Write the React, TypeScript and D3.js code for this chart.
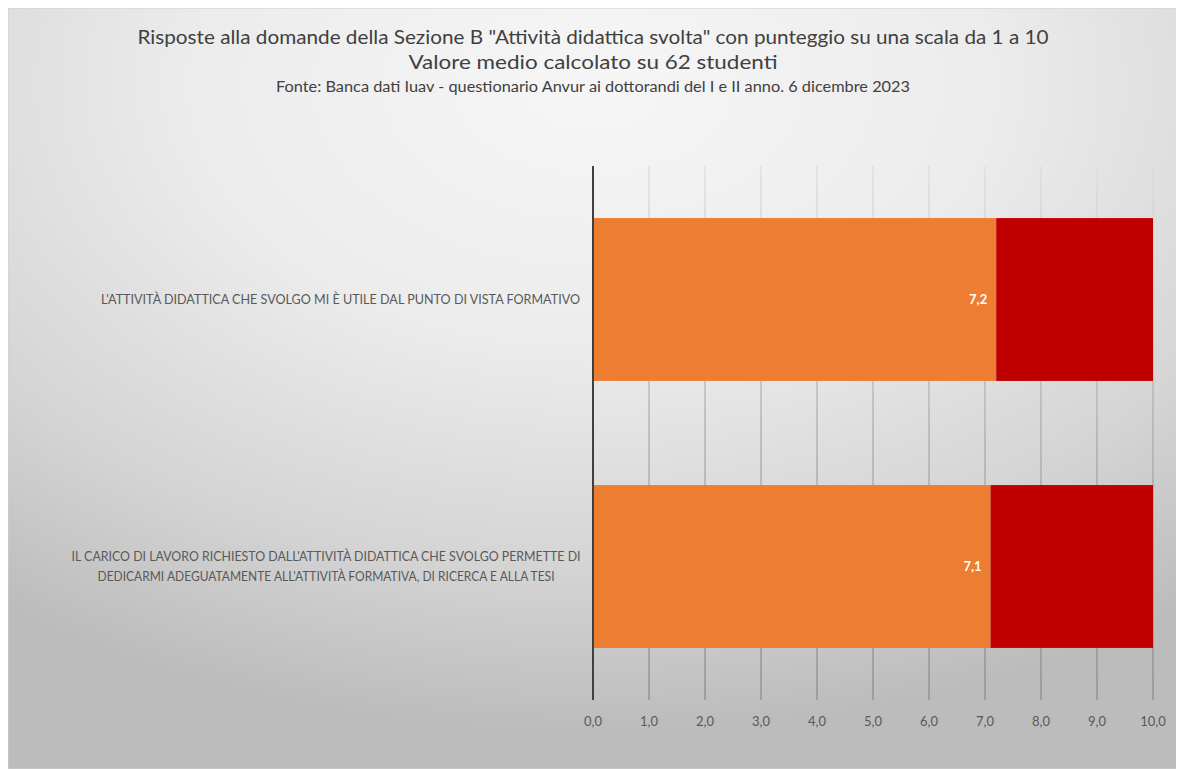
import React from "react";
import * as d3 from "d3";

const categories = [
  "L'ATTIVITÀ DIDATTICA CHE SVOLGO MI È UTILE DAL PUNTO DI VISTA FORMATIVO",
  "IL CARICO DI LAVORO RICHIESTO DALL'ATTIVITÀ DIDATTICA CHE SVOLGO PERMETTE DI|DEDICARMI ADEGUATAMENTE ALL'ATTIVITÀ FORMATIVA, DI RICERCA E ALLA TESI",
];
const meanValues = [7.2, 7.1];
const maxValue = 10;
const tickValues = [0, 1, 2, 3, 4, 5, 6, 7, 8, 9, 10];
const titleLines = [
  'Risposte alla domande della Sezione B "Attività didattica svolta" con punteggio su una scala da 1 a 10',
  "Valore medio calcolato su 62 studenti",
];
const subtitle =
  "Fonte: Banca dati Iuav - questionario Anvur ai dottorandi del I e II anno. 6 dicembre 2023";

const W = 1170;
const H = 761;
const FONT = "Lato, 'Open Sans', sans-serif";

export default function App() {
  const x = d3.scaleLinear().domain([0, maxValue]).range([585, 1145]);
  const y = d3
    .scaleBand<string>()
    .domain(categories)
    .range([158, 692])
    .paddingInner(0.39)
    .paddingOuter(0.195);
  const fmt = (v: number) => d3.format(".1f")(v).replace(".", ",");

  return (
    <svg width={W} height={H} style={{ display: "block", fontFamily: FONT }}>
      <defs>
        <radialGradient id="bg" cx="0.5" cy="0.1" r="0.85" fx="0.5" fy="0.1">
          <stop offset="0" stopColor="#f6f6f6" />
          <stop offset="0.4" stopColor="#ececec" />
          <stop offset="0.75" stopColor="#d4d4d4" />
          <stop offset="1" stopColor="#bcbcbc" />
        </radialGradient>
        <linearGradient id="grid" gradientUnits="userSpaceOnUse" x1="0" y1="158" x2="0" y2="692">
          <stop offset="0" stopColor="#dcdcdc" />
          <stop offset="0.5" stopColor="#a8a8a8" />
          <stop offset="1" stopColor="#888888" />
        </linearGradient>
      </defs>
      <rect x={0} y={0} width={W} height={H} fill="url(#bg)" stroke="#d0d0d0" />

      <text x={585} y={36} textAnchor="middle" fontSize={20} fill="#404040" textLength={911} lengthAdjust="spacingAndGlyphs">
        {titleLines[0]}
      </text>
      <text x={585} y={61} textAnchor="middle" fontSize={20} fill="#404040" textLength={369} lengthAdjust="spacingAndGlyphs">
        {titleLines[1]}
      </text>
      <text x={585} y={84} textAnchor="middle" fontSize={14.5} fill="#404040" textLength={634} lengthAdjust="spacingAndGlyphs">
        {subtitle}
      </text>

      {tickValues.map((t) => (
        <g key={t}>
          {t > 0 && (
            <line x1={x(t)} x2={x(t)} y1={158} y2={692} stroke="url(#grid)" strokeWidth={1.2} />
          )}
          <text x={x(t)} y={718} textAnchor="middle" fontSize={13} fill="#595959">
            {fmt(t)}
          </text>
        </g>
      ))}

      {categories.map((c, i) => {
        const y0 = y(c)!;
        const bw = y.bandwidth();
        const v = meanValues[i];
        const cy = y0 + bw / 2;
        const lines = c.split("|");
        return (
          <g key={c}>
            <rect x={x(0)} y={y0} width={x(v) - x(0)} height={bw} fill="#ED7D31" />
            <rect x={x(v)} y={y0} width={x(maxValue) - x(v)} height={bw} fill="#C00000" />
            <text x={x(v) - 9} y={cy + 4.5} textAnchor="end" fontSize={13} fontWeight="bold" fill="#ffffff">
              {fmt(v)}
            </text>
            {lines.length === 1 ? (
              <text x={572} y={cy + 4.5} textAnchor="end" fontSize={12.5} fill="#595959" textLength={479} lengthAdjust="spacingAndGlyphs">
                {lines[0]}
              </text>
            ) : (
              lines.map((l, k) => (
                <text
                  key={k}
                  x={318}
                  y={cy - 10 + k * 20 + 4.5}
                  textAnchor="middle"
                  fontSize={12.5}
                  fill="#595959"
                  textLength={k === 0 ? 509 : 457}
                  lengthAdjust="spacingAndGlyphs"
                >
                  {l}
                </text>
              ))
            )}
          </g>
        );
      })}

      <line x1={x(0)} x2={x(0)} y1={158} y2={692} stroke="#404040" strokeWidth={2} />
    </svg>
  );
}
